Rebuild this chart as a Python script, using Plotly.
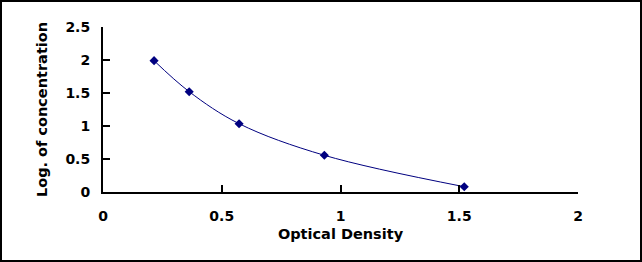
import plotly.graph_objects as go

optical_density = [0.215, 0.363, 0.573, 0.932, 1.521]
log_concentration = [1.99, 1.52, 1.035, 0.556, 0.08]
x_ticks = [0, 0.5, 1, 1.5, 2]
y_ticks = [0, 0.5, 1, 1.5, 2, 2.5]

W, H = 642, 262
ML, MR, MT, MB = 103, 64, 27, 70

fig = go.Figure()
fig.add_trace(go.Scatter(
    x=optical_density, y=log_concentration,
    mode="lines+markers",
    line=dict(color="#000080", width=1, shape="spline", smoothing=1),
    marker=dict(symbol="diamond", size=7, color="#000080"),
    showlegend=False,
))

fam = "DejaVu Sans, Arial, sans-serif"
tick_font = dict(family=fam, size=14, color="black")
title_font = dict(family=fam, size=14.5, color="black")
pw = W - ML - MR
ph = H - MT - MB
fig.add_shape(type="rect", xref="paper", yref="paper",
              x0=-(ML - 1) / pw, x1=1 + (MR - 1) / pw,
              y0=-(MB - 1) / ph, y1=1 + (MT - 1) / ph,
              line=dict(color="black", width=2), layer="above")

fig.update_layout(
    width=W, height=H,
    margin=dict(l=ML, r=MR, t=MT, b=MB),
    paper_bgcolor="white", plot_bgcolor="white",
    font=tick_font,
    xaxis=dict(
        range=[0, 2], tickvals=x_ticks, ticktext=[f"<b>{v:g}</b>" for v in x_ticks],
        tickfont=tick_font, ticklabelstandoff=10,
        showgrid=False, zeroline=False, showline=True, linecolor="black", linewidth=2,
        ticks="inside", ticklen=7, tickwidth=2, tickcolor="black",
        title=dict(text="<b>Optical Density</b>", standoff=6, font=title_font),
    ),
    yaxis=dict(
        range=[0, 2.5], tickvals=y_ticks, ticktext=[f"<b>{v:g}</b>" for v in y_ticks],
        tickfont=tick_font, ticklabelstandoff=8,
        showgrid=False, zeroline=False, showline=True, linecolor="black", linewidth=2,
        ticks="inside", ticklen=7, tickwidth=2, tickcolor="black",
        title=dict(text="<b>Log. of concentration</b>", standoff=14, font=title_font),
    ),
)

fig.write_html("out.html")
